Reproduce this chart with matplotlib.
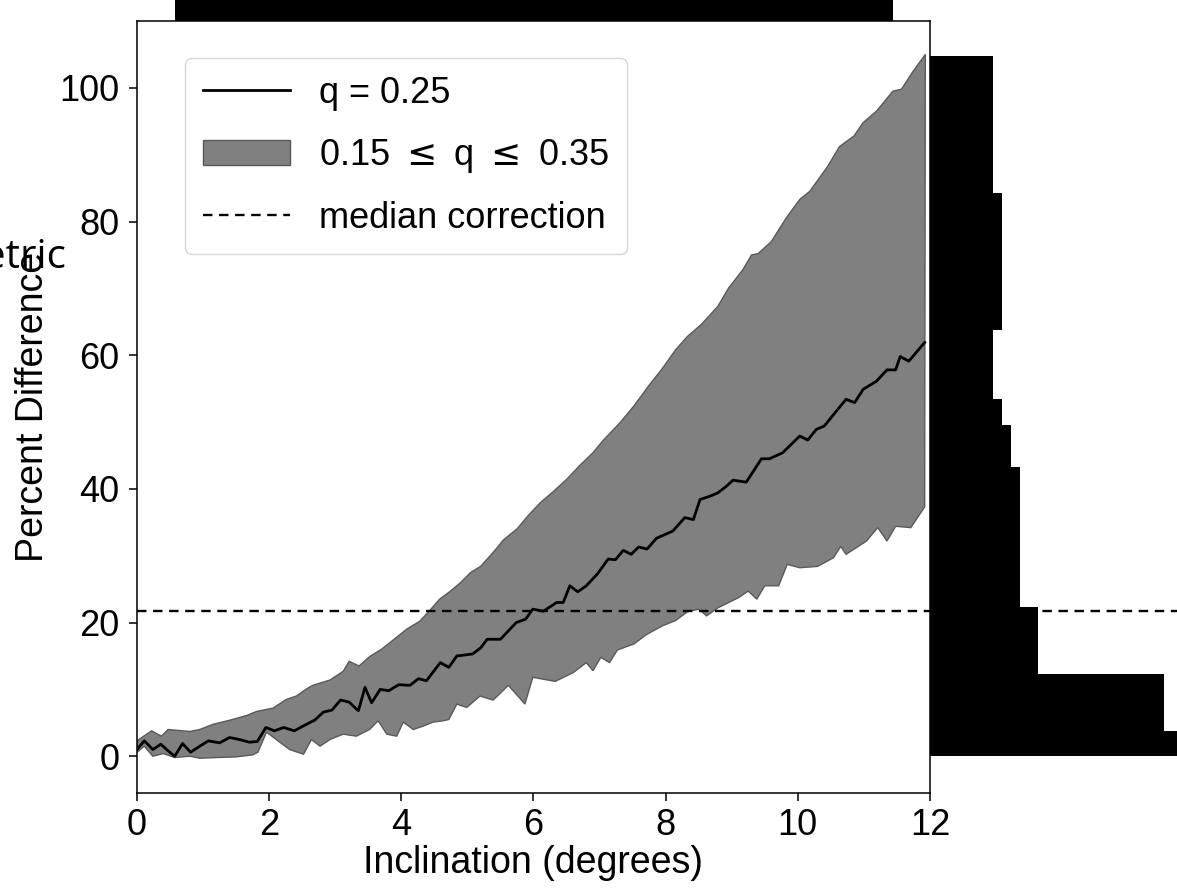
#Percent difference vs inclination for q = 0.25, with the 0.15-0.35 band and marginal histograms.
import numpy as np
import matplotlib
matplotlib.use("Agg")
import matplotlib.pyplot as plt

plt.rcParams['font.family'] = ['Liberation Sans', 'DejaVu Sans']
plt.rcParams['mathtext.fontset'] = 'dejavusans'

#q = 0.25 curve (inclination in degrees, percent difference)
line_x = [0.0, 0.11, 0.24, 0.36, 0.46, 0.57, 0.69, 0.81, 0.95, 1.08, 1.25, 1.4, 1.55, 1.7, 1.82,
          1.95, 2.08, 2.22, 2.38, 2.53, 2.69, 2.82, 2.95, 3.08, 3.21, 3.35, 3.45, 3.55, 3.68, 3.81,
          3.96, 4.13, 4.26, 4.38, 4.59, 4.72, 4.84, 5.08, 5.2, 5.3, 5.5, 5.74, 5.88, 5.99, 6.15,
          6.35, 6.45, 6.55, 6.67, 6.8, 6.97, 7.13, 7.24, 7.36, 7.48, 7.59, 7.72, 7.86, 8.11, 8.29,
          8.42, 8.52, 8.67, 8.79, 8.92, 9.02, 9.22, 9.45, 9.57, 9.77, 10.03, 10.15, 10.28, 10.4,
          10.73, 10.86, 10.99, 11.19, 11.35, 11.48, 11.55, 11.68, 11.92]
line_y = [1.0, 2.3, 1.0, 1.8, 0.9, 0.0, 1.9, 0.6, 1.5, 2.3, 2.0, 2.8, 2.5, 2.1, 2.2,
          4.3, 3.8, 4.3, 3.8, 4.6, 5.4, 6.6, 6.9, 8.4, 8.1, 6.8, 10.3, 8.0, 10.0, 9.8,
          10.7, 10.6, 11.6, 11.3, 14.0, 13.3, 15.0, 15.3, 16.2, 17.5, 17.5, 20.0, 20.5, 22.0, 21.7,
          23.0, 23.0, 25.5, 24.6, 25.5, 27.3, 29.5, 29.4, 30.8, 30.2, 31.3, 31.0, 32.6, 33.7, 35.7,
          35.4, 38.4, 38.9, 39.4, 40.4, 41.3, 41.0, 44.5, 44.5, 45.4, 47.9, 47.3, 48.9, 49.4,
          53.4, 52.9, 54.9, 56.1, 57.8, 57.8, 59.8, 59.1, 61.9]

#upper edge of the band (q = 0.35)
upper_x = [0.0, 0.22, 0.37, 0.47, 0.8, 0.95, 1.16, 1.41, 1.66, 1.81, 2.06, 2.26, 2.41, 2.57, 2.66,
           2.92, 3.12, 3.21, 3.36, 3.52, 3.7, 3.93, 4.08, 4.28, 4.43, 4.58, 4.73, 4.9, 5.05, 5.2,
           5.4, 5.55, 5.75, 5.92, 6.1, 6.3, 6.5, 6.7, 6.9, 7.05, 7.31, 7.52, 7.75, 7.95, 8.15,
           8.33, 8.54, 8.79, 8.95, 9.17, 9.3, 9.4, 9.6, 9.83, 10.03, 10.18, 10.45, 10.63, 10.85,
           10.99, 11.19, 11.44, 11.57, 11.74, 11.93]
upper_y = [2.3, 3.8, 3.0, 4.0, 3.7, 4.0, 4.8, 5.4, 6.1, 6.7, 7.2, 8.5, 9.0, 10.1, 10.6,
           11.4, 12.7, 14.2, 13.5, 14.9, 16.0, 17.8, 19.0, 20.2, 21.8, 23.5, 24.6, 26.0, 27.5, 28.4,
           30.6, 32.4, 34.0, 36.0, 37.9, 39.6, 41.4, 43.5, 45.4, 47.2, 49.9, 52.4, 55.5, 58.0, 60.8,
           62.8, 64.6, 67.3, 70.0, 72.8, 75.0, 75.2, 77.0, 80.6, 83.3, 84.5, 88.2, 91.2, 92.8,
           94.8, 96.5, 99.5, 99.8, 102.4, 105.0]

#lower edge of the band (q = 0.15)
lower_x = [0.0, 0.11, 0.24, 0.4, 0.57, 0.8, 0.95, 1.2, 1.5, 1.75, 1.83, 1.96, 2.16, 2.31, 2.52,
           2.64, 2.77, 2.92, 3.12, 3.32, 3.52, 3.65, 3.78, 3.93, 4.03, 4.18, 4.33, 4.48, 4.63, 4.72,
           4.84, 4.99, 5.19, 5.39, 5.62, 5.8, 5.87, 5.99, 6.33, 6.6, 6.8, 6.9, 7.02, 7.15, 7.27,
           7.52, 7.71, 7.95, 8.15, 8.33, 8.5, 8.62, 8.79, 9.1, 9.25, 9.38, 9.5, 9.71, 9.84, 10.03,
           10.3, 10.54, 10.65, 10.73, 11.04, 11.21, 11.35, 11.48, 11.71, 11.92]
lower_y = [0.6, 1.5, 0.0, 0.4, -0.2, 0.0, -0.3, -0.2, -0.1, 0.2, 0.6, 3.6, 2.1, 1.0, 0.3,
           2.5, 1.5, 2.5, 3.3, 3.0, 4.0, 5.3, 3.3, 3.0, 5.1, 4.0, 4.5, 5.1, 5.3, 5.5,
           7.8, 7.3, 9.0, 8.4, 10.6, 8.6, 7.8, 11.8, 11.2, 12.5, 14.0, 12.8, 14.8, 14.0, 15.9,
           16.8, 18.2, 19.5, 20.3, 21.6, 22.0, 21.0, 22.2, 23.7, 24.7, 23.5, 25.5, 25.5, 28.7, 28.2,
           28.4, 29.7, 31.4, 30.2, 32.2, 34.2, 32.2, 34.4, 34.2, 37.3]

median_correction = 21.7

#right histogram: bin edges in percent difference and counts
hist_edges = [0, 3.7, 12.3, 22.4, 43.2, 49.5, 53.5, 63.7, 84.3, 104.8]
hist_counts = [30, 26, 12, 10, 9, 8, 7, 8, 7]

#top histogram, only its base shows in the figure
top_edges = [0.575, 11.44]
top_counts = [1]

fig = plt.figure(figsize=(11.77, 8.93), dpi=100)
ax = fig.add_axes([0.1164, 0.112, 0.6737, 0.8645])
ax_right = fig.add_axes([0.7901, 0.112, 0.2099, 0.8645], sharey=ax)
ax_top = fig.add_axes([0.1164, 0.9765, 0.6737, 0.0235], sharex=ax)

#band between the two q values
band_x = np.concatenate([upper_x, lower_x[::-1]])
band_y = np.concatenate([upper_y, lower_y[::-1]])
band, = ax.fill(band_x, band_y, facecolor='#808080', edgecolor='#5a5a5a', lw=1.0,
                label=r'0.15 $\leq$ q $\leq$ 0.35')
curve, = ax.plot(line_x, line_y, color='black', lw=2.0, label='q = 0.25')
med = ax.axhline(median_correction, color='black', lw=1.7, ls='--', dashes=(4.0, 2.8),
                 label='median correction')

ax.set_xlim(0, 12)
ax.set_ylim(-5.5, 110)
ax.set_xticks([0, 2, 4, 6, 8, 10, 12])
ax.set_yticks([0, 20, 40, 60, 80, 100])
ax.tick_params(labelsize=26, length=5.5, width=1.1)
ax.tick_params(axis='x', pad=5)
ax.tick_params(axis='y', pad=7)
for s in ax.spines.values():
    s.set_linewidth(1.1)
ax.set_xlabel('Inclination (degrees)', fontsize=27)
ax.set_ylabel('Percent Difference', fontsize=27)
ax.xaxis.set_label_coords(0.5, -0.068)
ax.yaxis.set_label_coords(-0.108, 0.5)

ax.legend(handles=[curve, band, med], loc='upper left', bbox_to_anchor=(0.0605, 0.952),
          borderaxespad=0, fontsize=26, labelspacing=0.72, handlelength=2.4,
          handletextpad=0.8, borderpad=0.5)

#right histogram
ax_right.barh(hist_edges[:-1], hist_counts, height=np.diff(hist_edges), align='edge',
              color='black', lw=0)
ax_right.axhline(median_correction, color='black', lw=1.7, ls='--', dashes=(4.0, 2.8))
ax_right.set_xlim(0, 27.4)
ax_right.axis('off')

#top histogram
ax_top.bar(top_edges[:-1], top_counts, width=np.diff(top_edges), align='edge', color='black')
ax_top.set_ylim(0, 0.5)
ax_top.axis('off')

#cut-off label from the left
fig.text(66 / 1177, (893 - 268) / 893, 'Metric', ha='right', va='baseline', fontsize=29,
         family=['Open Sans', 'DejaVu Sans'])

fig.savefig('out.png', dpi=100)
